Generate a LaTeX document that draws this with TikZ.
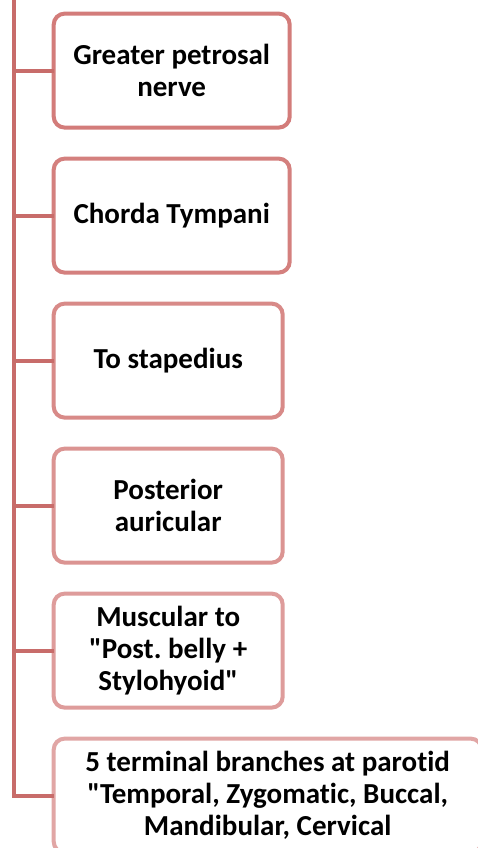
\documentclass[tikz,border=0pt]{standalone}
\usepackage{fontspec}
\setmainfont{Carlito}[Ligatures={NoCommon}]
\frenchspacing
\definecolor{trunkc}{RGB}{200,108,106}
\definecolor{c1}{RGB}{211,124,122}
\definecolor{c2}{RGB}{212,128,126}
\definecolor{c3}{RGB}{216,138,136}
\definecolor{c4}{RGB}{219,148,146}
\definecolor{c5}{RGB}{222,156,155}
\definecolor{c6}{RGB}{225,166,165}
\begin{document}
\begin{tikzpicture}[x=1pt,y=-1pt,
  nbox/.style={draw, line width=4pt, rounded corners=11pt, fill=white,
    minimum height=114pt, anchor=west, align=center, inner sep=0pt, outer sep=0pt,
    font=\fontsize{29}{32}\selectfont\bfseries},
  conn/.style={trunkc, line width=4pt}]
\useasboundingbox (0,0) rectangle (477,848);
\node[nbox, draw=c1, minimum width=236pt] (b1) at (53.7,70.6) {Greater petrosal\\nerve};
\node[nbox, draw=c2, minimum width=236pt] (b2) at (53.7,215.6) {Chorda Tympani};
\node[nbox, draw=c3, minimum width=229pt] (b3) at (53.7,360.6) {To stapedius};
\node[nbox, draw=c4, minimum width=229pt] (b4) at (53.7,505.6) {Posterior\\auricular};
\node[nbox, draw=c5, minimum width=229pt] (b5) at (53.7,650.6) {Muscular to\\\textquotedbl Post. belly +\\Stylohyoid\textquotedbl};
\node[nbox, draw=c6, minimum width=428pt] (b6) at (53.7,795.6) {5 terminal branches at parotid\\\textquotedbl Temporal, Zygomatic, Buccal,\\Mandibular, Cervical};
\coordinate (top) at (14,-2);
\draw[conn, line join=miter] (top) |- (b6.west);
\foreach \b in {b1,b2,b3,b4,b5}{
  \draw[conn] (14,0 |- \b.west) -- (\b.west);
}
\end{tikzpicture}
\end{document}
